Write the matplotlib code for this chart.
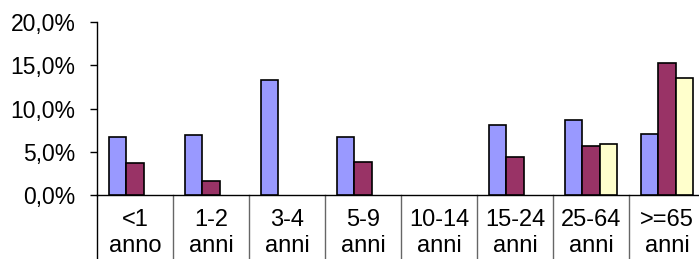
import matplotlib.pyplot as plt
import matplotlib.transforms as mtransforms
import numpy as np

plt.rcParams['font.family'] = ['Liberation Sans', 'DejaVu Sans']

# age groups (two-line labels) and the three series, in percent
cat_top = ['<1', '1-2', '3-4', '5-9', '10-14', '15-24', '25-64', '>=65']
cat_bottom = ['anno', 'anni', 'anni', 'anni', 'anni', 'anni', 'anni', 'anni']
serie_a = [6.7, 7.0, 13.3, 6.7, 0.0, 8.15, 8.7, 7.05]
serie_b = [3.75, 1.65, 0.0, 3.9, 0.0, 4.4, 5.7, 15.3]
serie_c = [0.0, 0.0, 0.0, 0.0, 0.0, 0.0, 5.9, 13.55]
y_ticks = [0, 5, 10, 15, 20]
y_labels = ['0,0%', '5,0%', '10,0%', '15,0%', '20,0%']

colors = ['#9999FF', '#993366', '#FFFFCC']

fig = plt.figure(figsize=(6.99, 2.59), dpi=100)
W, H = 699.0, 259.0
x0, y0, ytop = 97.0, 195.3, 22.0
cw = 76.0
ax = fig.add_axes([x0 / W, (H - y0) / H, 8 * cw / W, (y0 - ytop) / H])

x = np.arange(len(cat_top))
bw = 0.224
for k, vals in enumerate([serie_a, serie_b, serie_c]):
    for xi, v in zip(x, vals):
        if v > 0:
            ax.bar(xi + (k - 1) * bw, v, width=bw, color=colors[k],
                   edgecolor='black', linewidth=1.2, zorder=3)

ax.set_xlim(-0.5, len(cat_top) - 0.5)
ax.set_ylim(0, 20)
ax.set_yticks(y_ticks)
ax.set_yticklabels(y_labels, fontsize=16.5)
ax.tick_params(axis='y', length=5, width=1, pad=10.5, direction='out')
ax.set_xticks([])
for s in ['top', 'right']:
    ax.spines[s].set_visible(False)
ax.spines['left'].set_linewidth(1)
ax.spines['bottom'].set_linewidth(1)

# category separators and two-line labels below the axis
trans = mtransforms.blended_transform_factory(ax.transData, ax.transAxes)
hpx = y0 - ytop
for k in range(len(cat_top) + 1):
    xs = k - 0.5
    ax.plot([xs, xs], [0, -(H - y0 + 5) / hpx], color='black' if k == 0 else '#666666',
            lw=1, transform=trans, clip_on=False)
for xi, t1, t2 in zip(x, cat_top, cat_bottom):
    ax.text(xi, -(226 - y0) / hpx, t1, transform=trans, ha='center', va='baseline', fontsize=17)
    ax.text(xi, -(251.5 - y0) / hpx, t2, transform=trans, ha='center', va='baseline', fontsize=17)

fig.savefig('out.png', dpi=100)
